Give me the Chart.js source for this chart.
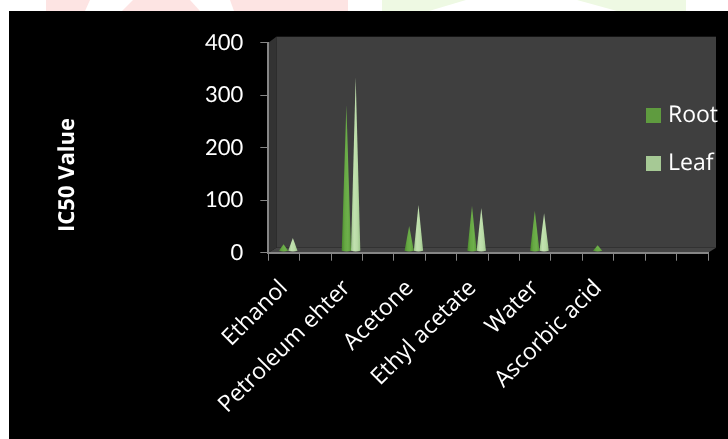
<!DOCTYPE html>
<html>
<head>
<meta charset="utf-8">
<title>IC50 Value</title>
<script src="https://cdn.jsdelivr.net/npm/chart.js@4"></script>
<style>
  html, body { margin: 0; padding: 0; background: #fff; }
  canvas { display: block; }
</style>
</head>
<body>
<canvas id="chart" width="728" height="439"></canvas>
<script>
// blanks keep every other slot empty, so each solvent spans two tick intervals
const categories = ['Ethanol', '', 'Petroleum ehter', '', 'Acetone', '', 'Ethyl acetate', '', 'Water', '', 'Ascorbic acid', '', '', ''];
const rootValues = [16, null, 281, null, 51, null, 89, null, 80, null, 14, null, null, null];
const leafValues = [28, null, 334, null, 91, null, 85, null, 75, null, null, null, null, null];
const yTicks = [0, 100, 200, 300, 400];

const DEPTH_X = 8;
const DEPTH_Y = 5;

const stripes = [
  { color: '#fde4e3', points: [[46, 0], [90, 0], [85, 11], [46, 11]] },
  { color: '#fde4e3', points: [[133, 0], [190, 0], [200, 11], [122, 11]] },
  { color: '#fde4e3', points: [[230, 0], [348, 0], [348, 11], [234, 11]] },
  { color: '#eef9e3', points: [[382, 0], [466, 0], [429, 11], [382, 11]] },
  { color: '#eef9e3', points: [[577, 0], [686, 0], [686, 11], [617, 11]] },
];

// page backdrop plus the floor and walls of the 3-d plot box
const backdrop = {
  id: 'backdrop',
  beforeDraw(chart) {
    const { ctx, chartArea: { left, top, right, bottom } } = chart;
    // unhinted glyphs, the hinted ones come out too wide
    ctx.textRendering = 'geometricPrecision';
    ctx.save();
    ctx.fillStyle = '#fff';
    ctx.fillRect(0, 0, chart.width, chart.height);
    stripes.forEach((s) => {
      ctx.fillStyle = s.color;
      ctx.beginPath();
      s.points.forEach((p) => ctx.lineTo(p[0], p[1]));
      ctx.fill();
    });
    ctx.fillStyle = '#000';
    ctx.fillRect(9, 11, chart.width - 9, chart.height - 11);

    ctx.fillStyle = '#3f3f3f';
    ctx.fillRect(left + DEPTH_X, top - DEPTH_Y - 1, right - left, bottom - top + 1);
    ctx.fillStyle = '#333';
    ctx.beginPath();
    ctx.moveTo(left, top);
    ctx.lineTo(left + DEPTH_X, top - DEPTH_Y - 1);
    ctx.lineTo(left + DEPTH_X, bottom - DEPTH_Y);
    ctx.lineTo(left, bottom);
    ctx.fill();
    ctx.fillStyle = '#444';
    ctx.beginPath();
    ctx.moveTo(left, bottom);
    ctx.lineTo(left + DEPTH_X, bottom - DEPTH_Y);
    ctx.lineTo(right + DEPTH_X, bottom - DEPTH_Y);
    ctx.lineTo(right, bottom);
    ctx.fill();
    ctx.restore();
  },
};

// swaps the plain bars for thin cones standing on the floor
const coneBars = {
  id: 'coneBars',
  beforeDatasetDraw(chart, args) {
    const { ctx } = chart;
    const stops = chart.data.datasets[args.index].coneStops;
    ctx.save();
    args.meta.data.forEach((bar, i) => {
      if (chart.data.datasets[args.index].data[i] == null) return;
      const half = bar.width / 2;
      const cx = bar.x + 4.2;
      const base = bar.base - 1.5;
      const grad = ctx.createLinearGradient(cx - half, 0, cx + half, 0);
      stops.forEach((c, n) => grad.addColorStop(n / (stops.length - 1), c));
      ctx.fillStyle = grad;
      ctx.beginPath();
      ctx.moveTo(cx, bar.y);
      ctx.lineTo(cx + half, base);
      ctx.quadraticCurveTo(cx, base + 1.5, cx - half, base);
      ctx.closePath();
      ctx.fill();
    });
    ctx.restore();
    return false;
  },
};

// axis title and legend sit in spots the built-in boxes can't reach
const sideLabels = {
  id: 'sideLabels',
  afterDraw(chart) {
    const { ctx } = chart;
    ctx.save();
    ctx.fillStyle = '#fff';
    ctx.textBaseline = 'middle';
    ctx.font = 'bold 22px "Open Sans", sans-serif';
    ctx.translate(68, 175);
    ctx.rotate(-Math.PI / 2);
    ctx.textAlign = 'center';
    ctx.fillText('IC50 Value', 0, 0);
    ctx.restore();

    ctx.save();
    ctx.textBaseline = 'middle';
    ctx.font = '23px "Open Sans", sans-serif';
    chart.data.datasets.forEach((ds, i) => {
      const y = 108 + i * 48;
      ctx.fillStyle = ds.backgroundColor;
      ctx.fillRect(646, y, 15, 15);
      ctx.fillStyle = '#fff';
      ctx.fillText(ds.label, 668, y + 7);
    });
    ctx.restore();
  },
};

new Chart(document.getElementById('chart'), {
  type: 'bar',
  data: {
    labels: categories,
    datasets: [
      {
        label: 'Root',
        data: rootValues,
        backgroundColor: '#5f9b3f',
        coneStops: ['#4a8a2c', '#66a843', '#6eb04b', '#5a9839'],
        barPercentage: 1,
        categoryPercentage: 0.592,
      },
      {
        label: 'Leaf',
        data: leafValues,
        backgroundColor: '#a6c995',
        coneStops: ['#9cc589', '#c2e1b0', '#b9dba6', '#9cc48a'],
        barPercentage: 1,
        categoryPercentage: 0.592,
      },
    ],
  },
  options: {
    responsive: false,
    animation: false,
    layout: {
      autoPadding: false,
      padding: { left: 58, right: 20, top: 42.7, bottom: 0 },
    },
    scales: {
      x: {
        afterFit: (scale) => {
          scale.height = 186.3;
        },
        grid: {
          drawOnChartArea: false,
          color: '#868686',
          tickLength: 8,
        },
        border: { color: '#868686', width: 2 },
        ticks: {
          autoSkip: false,
          maxRotation: 45,
          minRotation: 45,
          padding: 14,
          color: '#fff',
          font: { size: 23, family: '"Open Sans", sans-serif' },
        },
      },
      y: {
        min: 0,
        max: 400,
        afterFit: (scale) => {
          scale.width = 210.3;
        },
        afterBuildTicks: (scale) => {
          scale.ticks = yTicks.map((tick) => {
            return { value: tick };
          });
        },
        grid: {
          drawOnChartArea: false,
          color: '#868686',
          tickLength: 8,
        },
        border: { color: '#868686', width: 2 },
        ticks: {
          padding: 17,
          color: '#fff',
          font: { size: 22, family: 'Lato, sans-serif' },
        },
      },
    },
    plugins: {
      legend: { display: false },
      tooltip: { enabled: false },
    },
  },
  plugins: [backdrop, coneBars, sideLabels],
});
</script>
</body>
</html>
